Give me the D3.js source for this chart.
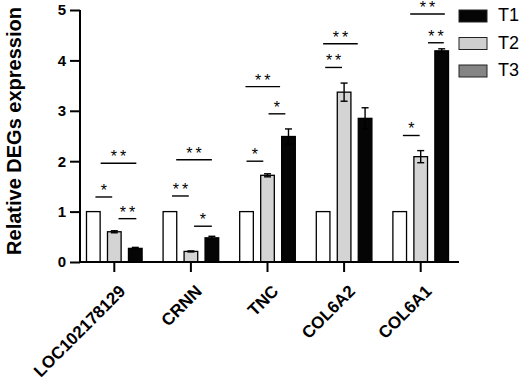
<!DOCTYPE html>
<html>
<head>
<meta charset="utf-8">
<script src="https://cdn.jsdelivr.net/npm/d3@7"></script>
<style>
  body { margin: 0; background: #fff; }
  text { font-family: "Liberation Sans", Arial, sans-serif; }
</style>
</head>
<body>
<div id="chart-area"></div>
<script>
// data
var genes  = ["LOC102178129", "CRNN", "TNC", "COL6A2", "COL6A1"];
var series = ["T1", "T2", "T3"];
var t1Vals = [1, 1, 1, 1, 1];
var t2Vals = [0.6, 0.21, 1.72, 3.37, 2.09];
var t3Vals = [0.27, 0.48, 2.49, 2.85, 4.19];
var t2Err  = [0.02, 0.01, 0.03, 0.18, 0.12];
var t3Err  = [0.02, 0.03, 0.15, 0.21, 0.04];
var yTicks = [0, 1, 2, 3, 4, 5];

// significance marks: gene, from bar, to bar, level, label
var sigGene  = ["LOC102178129", "LOC102178129", "LOC102178129", "CRNN", "CRNN", "CRNN", "TNC", "TNC", "TNC", "COL6A2", "COL6A2", "COL6A1", "COL6A1", "COL6A1"];
var sigFrom  = [0.1, 0.35, 1.2, 0.1, 0.3, 1.15, 0, -0.05, 1.05, 0.1, 0, 0.15, 0.5, 1.35];
var sigTo    = [0.9, 2.05, 2.05, 0.9, 2, 2, 0.8, 1.6, 1.85, 0.9, 1.65, 0.95, 2.15, 2.1];
var sigLevel = [1.29, 1.96, 0.86, 1.31, 2.03, 0.71, 2.0, 3.48, 2.94, 3.86, 4.33, 2.51, 4.92, 4.35];
var sigText  = ["*", "**", "**", "**", "**", "*", "*", "**", "*", "**", "**", "*", "**", "**"];

var barFill    = { T1: "#ffffff", T2: "#d4d4d4", T3: "#050505" };
var legendFill = { T1: "#050505", T2: "#cfcfcf", T3: "#858585" };

var W = 526, H = 386;

var svg = d3.select("#chart-area")
    .append("svg")
        .attr("width", W)
        .attr("height", H);

var x0 = d3.scaleBand()
    .domain(genes)
    .range([76, 459]);

var x1 = d3.scaleBand()
    .domain(series)
    .range([0, x0.bandwidth()])
    .paddingInner(0.35)
    .paddingOuter(0.5);

var y = d3.scaleLinear()
    .domain([0, 5])
    .range([262, 10]);

var rows = genes.map(function(g, i) {
    return [
        { gene: g, s: "T1", v: t1Vals[i], e: 0 },
        { gene: g, s: "T2", v: t2Vals[i], e: t2Err[i] },
        { gene: g, s: "T3", v: t3Vals[i], e: t3Err[i] }
    ];
});

var bars = rows.flat();

// bars
svg.append("g").selectAll("rect")
    .data(bars)
    .enter()
    .append("rect")
        .attr("x", function(d) { return x0(d.gene) + x1(d.s); })
        .attr("y", function(d) { return y(d.v); })
        .attr("width", x1.bandwidth())
        .attr("height", function(d) { return y(0) - y(d.v); })
        .attr("fill", function(d) { return barFill[d.s]; })
        .attr("stroke", "#000")
        .attr("stroke-width", 1.3);

// error bars
var eb = svg.append("g")
    .attr("stroke", "#000")
    .attr("stroke-width", 1.4);

bars.filter(function(d) { return d.e > 0; }).forEach(function(d) {
    var cx = x0(d.gene) + x1(d.s) + x1.bandwidth() / 2;
    eb.append("line")
        .attr("x1", cx).attr("x2", cx)
        .attr("y1", y(d.v + d.e)).attr("y2", y(d.v - d.e));
    [d.v + d.e, d.v - d.e].forEach(function(v) {
        eb.append("line")
            .attr("x1", cx - 3.5).attr("x2", cx + 3.5)
            .attr("y1", y(v)).attr("y2", y(v));
    });
});

// significance lines
function subX(gene, p) {
    return x0(gene) + x1("T1") + x1.bandwidth() / 2 + p * x1.step();
}

var sig = svg.append("g");
sigGene.forEach(function(g, i) {
    var xa = subX(g, sigFrom[i]);
    var xb = subX(g, sigTo[i]);
    sig.append("line")
        .attr("x1", xa).attr("x2", xb)
        .attr("y1", y(sigLevel[i])).attr("y2", y(sigLevel[i]))
        .attr("stroke", "#000")
        .attr("stroke-width", 1.4);
    sig.append("text")
        .attr("x", (xa + xb) / 2 + 1.5)
        .attr("y", y(sigLevel[i]) - 1)
        .attr("text-anchor", "middle")
        .attr("font-size", "16px")
        .attr("letter-spacing", "3px")
        .attr("fill", "#000")
        .text(sigText[i]);
});

// y axis
var yAxisCall = d3.axisLeft(y)
    .tickValues(yTicks)
    .tickSize(10)
    .tickPadding(4)
    .tickFormat(d3.format("d"));

var yAxis = svg.append("g")
    .attr("transform", "translate(80, 0)")
    .call(yAxisCall);

yAxis.select(".domain").attr("stroke-width", 2).attr("d", "M0,263V10");
yAxis.selectAll(".tick line").attr("stroke-width", 2);
yAxis.selectAll("text")
    .attr("font-size", "15px")
    .attr("font-weight", "bold")
    .attr("fill", "#000");

// x axis
var xAxisCall = d3.axisBottom(x0)
    .tickSize(10)
    .tickSizeOuter(0);

var xAxis = svg.append("g")
    .attr("transform", "translate(0, 262)")
    .call(xAxisCall);

xAxis.select(".domain").attr("stroke-width", 2).attr("d", "M79,0H459");
xAxis.selectAll(".tick line").attr("stroke-width", 2);
xAxis.selectAll("text")
    .attr("font-size", "17px")
    .attr("font-weight", "bold")
    .attr("fill", "#000")
    .attr("text-anchor", "end")
    .attr("x", -13)
    .attr("y", 30)
    .attr("dy", "0")
    .attr("transform", "rotate(-45)");

svg.append("text")
    .attr("x", -131)
    .attr("y", 21)
    .attr("font-size", "20px")
    .attr("font-weight", "bold")
    .attr("text-anchor", "middle")
    .attr("transform", "rotate(-90)")
    .text("Relative DEGs expression");

// legend
var legend = svg.append("g");
series.forEach(function(s, i) {
    var ly = 10 + i * 27.5;
    legend.append("rect")
        .attr("x", 459)
        .attr("y", ly)
        .attr("width", 28)
        .attr("height", 12)
        .attr("fill", legendFill[s])
        .attr("stroke", "#222")
        .attr("stroke-width", 1);
    legend.append("text")
        .attr("x", 498)
        .attr("y", ly + 11)
        .attr("font-size", "18px")
        .attr("fill", "#000")
        .text(s);
});
</script>
</body>
</html>
